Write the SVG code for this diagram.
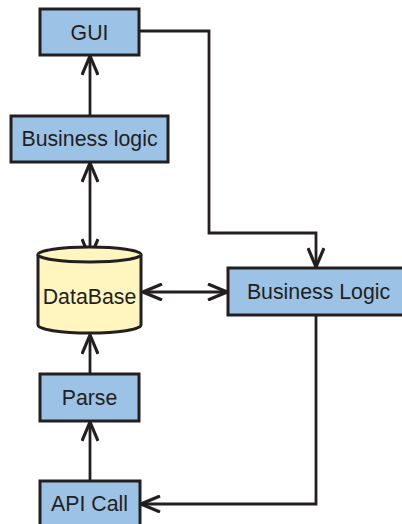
<svg xmlns="http://www.w3.org/2000/svg" width="402" height="524" viewBox="0 0 402 524">
<style>
.box{fill:#9cc3e6;stroke:#231f20;stroke-width:3}
.db{fill:#fff5bf;stroke:#231f20;stroke-width:3}
.lbl{font-family:"Liberation Sans",Arial,sans-serif;font-size:21.3px;fill:#231f20;text-anchor:middle}
.edge{fill:none;stroke:#231f20;stroke-width:2.8}
</style>
<defs>
<marker id="ah" viewBox="0 0 22 18" refX="20" refY="9" markerWidth="22" markerHeight="18" markerUnits="userSpaceOnUse" orient="auto-start-reverse">
<path d="M1,1 L20,9 L1,17" fill="none" stroke="#231f20" stroke-width="3.2" stroke-linejoin="miter"/>
</marker>
</defs>
<rect width="402" height="524" fill="#ffffff"/>
<g id="connectors">
<line class="edge" x1="90" y1="116" x2="90" y2="56" marker-end="url(#ah)"/>
<line class="edge" x1="90" y1="163" x2="90" y2="258" marker-start="url(#ah)" marker-end="url(#ah)"/>
<polyline class="edge" points="140,31 209,31 209,233 316,233 316,267" marker-end="url(#ah)"/>
<line class="edge" x1="143" y1="292" x2="227" y2="292" marker-start="url(#ah)" marker-end="url(#ah)"/>
<line class="edge" x1="90" y1="374" x2="90" y2="335" marker-end="url(#ah)"/>
<line class="edge" x1="90" y1="481" x2="90" y2="422" marker-end="url(#ah)"/>
<polyline class="edge" points="316,316 316,504 141,504" marker-end="url(#ah)"/>
</g>
<g id="gui">
<rect class="box" x="40" y="9" width="99" height="46"/>
<text class="lbl" x="89.5" y="39.5">GUI</text>
</g>
<g id="business-logic-1">
<rect class="box" x="11" y="116" width="157" height="46"/>
<text class="lbl" x="89.5" y="146">Business logic</text>
</g>
<g id="database">
<path class="db" d="M38,254.5 L38,325 A51.5,8 0 0 0 141,325 L141,254.5 A51.5,7.5 0 0 0 38,254.5 Z"/>
<path class="db" d="M38,254.5 A51.5,7.5 0 0 0 141,254.5" fill="none"/>
<text class="lbl" x="89.5" y="303.5">DataBase</text>
</g>
<g id="business-logic-2">
<rect class="box" x="228" y="268" width="182" height="47"/>
<text class="lbl" x="318.5" y="299">Business Logic</text>
</g>
<g id="parse">
<rect class="box" x="40" y="374" width="99" height="47"/>
<text class="lbl" x="89.5" y="405">Parse</text>
</g>
<g id="api-call">
<rect class="box" x="40" y="481" width="100" height="50"/>
<text class="lbl" x="89.5" y="511">API Call</text>
</g>
</svg>
